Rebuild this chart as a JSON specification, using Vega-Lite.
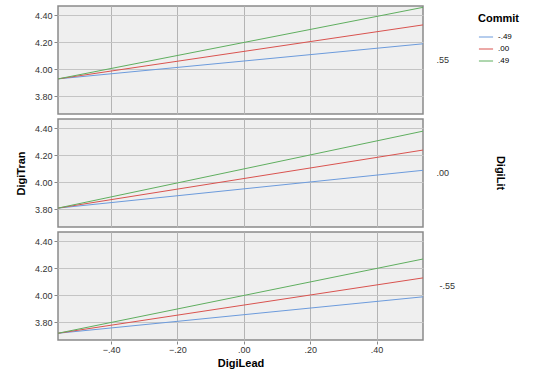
{
  "$schema": "https://vega.github.io/schema/vega-lite/v6.json",
  "padding": {"left": 15, "top": 5, "right": 5, "bottom": 2},
  "background": "white",
  "data": {"values": [
    {"DigiLit": ".55", "Commit": "-.49", "DigiLead": -0.56, "DigiTran": 3.93},
    {"DigiLit": ".55", "Commit": "-.49", "DigiLead": 0.54, "DigiTran": 4.19},
    {"DigiLit": ".55", "Commit": ".00", "DigiLead": -0.56, "DigiTran": 3.93},
    {"DigiLit": ".55", "Commit": ".00", "DigiLead": 0.54, "DigiTran": 4.33},
    {"DigiLit": ".55", "Commit": ".49", "DigiLead": -0.56, "DigiTran": 3.93},
    {"DigiLit": ".55", "Commit": ".49", "DigiLead": 0.54, "DigiTran": 4.46},
    {"DigiLit": ".00", "Commit": "-.49", "DigiLead": -0.56, "DigiTran": 3.81},
    {"DigiLit": ".00", "Commit": "-.49", "DigiLead": 0.54, "DigiTran": 4.09},
    {"DigiLit": ".00", "Commit": ".00", "DigiLead": -0.56, "DigiTran": 3.81},
    {"DigiLit": ".00", "Commit": ".00", "DigiLead": 0.54, "DigiTran": 4.24},
    {"DigiLit": ".00", "Commit": ".49", "DigiLead": -0.56, "DigiTran": 3.81},
    {"DigiLit": ".00", "Commit": ".49", "DigiLead": 0.54, "DigiTran": 4.38},
    {"DigiLit": "-.55", "Commit": "-.49", "DigiLead": -0.56, "DigiTran": 3.72},
    {"DigiLit": "-.55", "Commit": "-.49", "DigiLead": 0.54, "DigiTran": 3.99},
    {"DigiLit": "-.55", "Commit": ".00", "DigiLead": -0.56, "DigiTran": 3.72},
    {"DigiLit": "-.55", "Commit": ".00", "DigiLead": 0.54, "DigiTran": 4.13},
    {"DigiLit": "-.55", "Commit": ".49", "DigiLead": -0.56, "DigiTran": 3.72},
    {"DigiLit": "-.55", "Commit": ".49", "DigiLead": 0.54, "DigiTran": 4.27}
  ]},
  "spacing": 3,
  "vconcat": [
    {
      "transform": [{"filter": "datum.DigiLit == '.55'"}],
      "facet": {"row": {"field": "DigiLit", "type": "nominal", "title": null,
        "header": {"labelOrient": "right", "labelAngle": 0, "labelAlign": "left", "labelPadding": 0,
          "labelFont": "Liberation Sans", "labelFontSize": 9, "labelColor": "#333"}}},
      "spec": {
        "width": 365, "height": 108,
        "mark": {"type": "line", "strokeWidth": 1, "clip": true},
        "encoding": {
          "x": {"field": "DigiLead", "type": "quantitative",
            "scale": {"domain": [-0.56, 0.54], "nice": false, "zero": false},
            "axis": {"values": [-0.4, -0.2, 0, 0.2, 0.4], "labels": false, "ticks": false, "title": null,
              "domain": false, "gridColor": "#b4b4b4"}},
          "y": {"field": "DigiTran", "type": "quantitative",
            "scale": {"domain": [3.67, 4.47], "nice": false, "zero": false},
            "axis": {"values": [3.8, 4.0, 4.2, 4.4], "format": ".2f", "title": " ",
              "titleFont": "Liberation Sans", "titleFontSize": 11, "titleFontWeight": "bold", "titlePadding": 8,
              "labelFont": "Liberation Sans", "labelFontSize": 9, "labelColor": "#333", "labelPadding": 2,
              "tickSize": 3, "gridColor": "#c4c4c4", "tickColor": "#888", "domain": false}},
          "color": {"field": "Commit", "type": "nominal", "sort": ["-.49", ".00", ".49"],
            "scale": {"domain": ["-.49", ".00", ".49"], "range": ["#6c9bdc", "#d9534f", "#5fae5f"]},
            "legend": {"title": "Commit", "orient": "none", "legendX": 420, "legendY": 7,
              "titleFont": "Liberation Sans", "titleFontSize": 11, "titleFontWeight": "bold",
              "labelFont": "Liberation Sans", "labelFontSize": 8, "symbolType": "stroke",
              "symbolSize": 200, "symbolStrokeWidth": 1, "rowPadding": 0}}
        }
      }
    },
    {
      "transform": [{"filter": "datum.DigiLit == '.00'"}],
      "facet": {"row": {"field": "DigiLit", "type": "nominal", "title": "DigiLit",
        "header": {"labelOrient": "right", "labelAngle": 0, "labelAlign": "left", "labelPadding": 0,
          "labelFont": "Liberation Sans", "labelFontSize": 9, "labelColor": "#333",
          "titleOrient": "right", "titleAngle": 90, "titleFont": "Liberation Sans",
          "titleFontSize": 11, "titleFontWeight": "bold", "titlePadding": 35}}},
      "spec": {
        "width": 365, "height": 108,
        "mark": {"type": "line", "strokeWidth": 1, "clip": true},
        "encoding": {
          "x": {"field": "DigiLead", "type": "quantitative",
            "scale": {"domain": [-0.56, 0.54], "nice": false, "zero": false},
            "axis": {"values": [-0.4, -0.2, 0, 0.2, 0.4], "labels": false, "ticks": false, "title": null,
              "domain": false, "gridColor": "#b4b4b4"}},
          "y": {"field": "DigiTran", "type": "quantitative",
            "scale": {"domain": [3.67, 4.47], "nice": false, "zero": false},
            "axis": {"values": [3.8, 4.0, 4.2, 4.4], "format": ".2f", "title": "DigiTran",
              "titleFont": "Liberation Sans", "titleFontSize": 11, "titleFontWeight": "bold", "titlePadding": 8,
              "labelFont": "Liberation Sans", "labelFontSize": 9, "labelColor": "#333", "labelPadding": 2,
              "tickSize": 3, "gridColor": "#c4c4c4", "tickColor": "#888", "domain": false}},
          "color": {"field": "Commit", "type": "nominal", "sort": ["-.49", ".00", ".49"],
            "scale": {"domain": ["-.49", ".00", ".49"], "range": ["#6c9bdc", "#d9534f", "#5fae5f"]},
            "legend": null}
        }
      }
    },
    {
      "transform": [{"filter": "datum.DigiLit == '-.55'"}],
      "facet": {"row": {"field": "DigiLit", "type": "nominal", "title": null,
        "header": {"labelOrient": "right", "labelAngle": 0, "labelAlign": "left", "labelPadding": 0,
          "labelFont": "Liberation Sans", "labelFontSize": 9, "labelColor": "#333"}}},
      "spec": {
        "width": 365, "height": 108,
        "mark": {"type": "line", "strokeWidth": 1, "clip": true},
        "encoding": {
          "x": {"field": "DigiLead", "type": "quantitative",
            "scale": {"domain": [-0.56, 0.54], "nice": false, "zero": false},
            "axis": {"values": [-0.4, -0.2, 0, 0.2, 0.4],
              "labelExpr": "replace(format(datum.value, '.2f'), '0.', '.')",
              "title": "DigiLead", "titleFont": "Liberation Sans", "titleFontSize": 11,
              "titleFontWeight": "bold", "titlePadding": 3, "tickSize": 3, "labelPadding": 1,
              "labelFont": "Liberation Sans", "labelFontSize": 9, "labelColor": "#333",
              "gridColor": "#b4b4b4", "tickColor": "#888", "domain": false}},
          "y": {"field": "DigiTran", "type": "quantitative",
            "scale": {"domain": [3.67, 4.47], "nice": false, "zero": false},
            "axis": {"values": [3.8, 4.0, 4.2, 4.4], "format": ".2f", "title": " ",
              "titleFont": "Liberation Sans", "titleFontSize": 11, "titleFontWeight": "bold", "titlePadding": 8,
              "labelFont": "Liberation Sans", "labelFontSize": 9, "labelColor": "#333", "labelPadding": 2,
              "tickSize": 3, "gridColor": "#c4c4c4", "tickColor": "#888", "domain": false}},
          "color": {"field": "Commit", "type": "nominal", "sort": ["-.49", ".00", ".49"],
            "scale": {"domain": ["-.49", ".00", ".49"], "range": ["#6c9bdc", "#d9534f", "#5fae5f"]},
            "legend": null}
        }
      }
    }
  ],
  "config": {
    "view": {"fill": "#efefef", "stroke": "#8a8a8a", "strokeWidth": 1.5}
  }
}
